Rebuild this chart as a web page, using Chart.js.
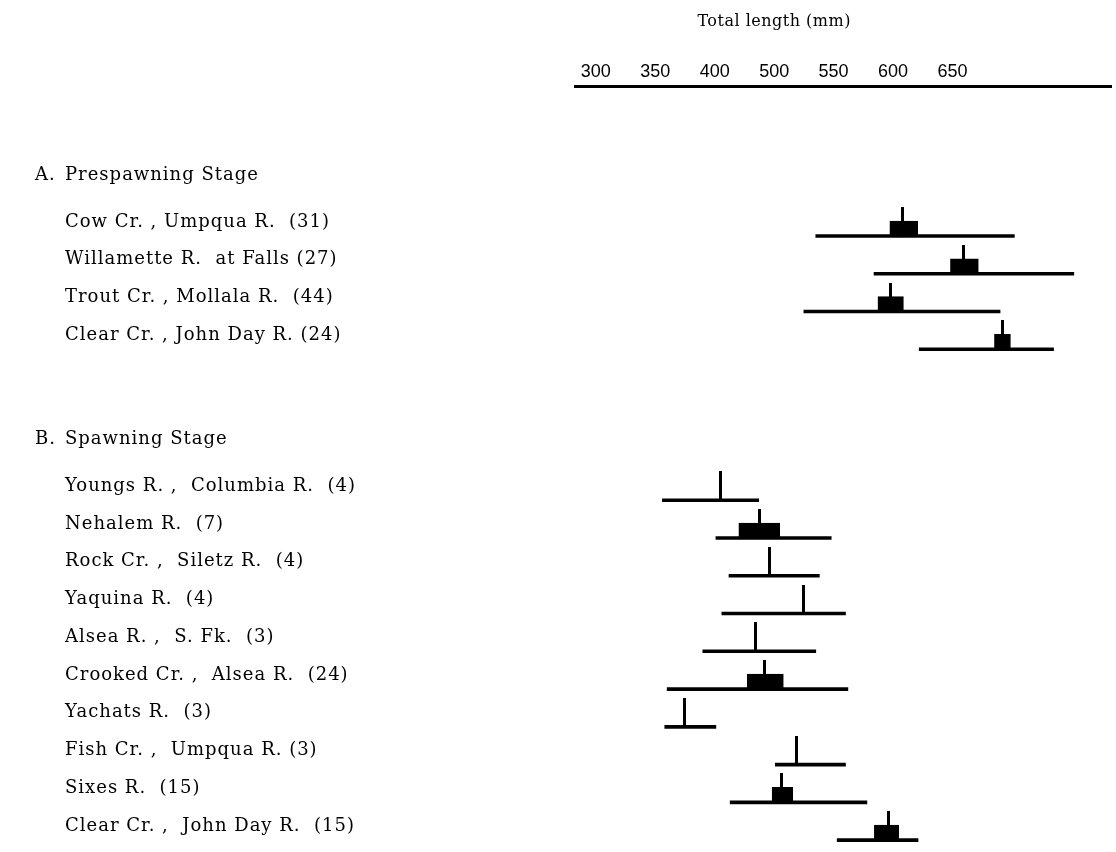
<!DOCTYPE html>
<html>
<head>
<meta charset="utf-8">
<script src="https://cdn.jsdelivr.net/npm/chart.js@4/dist/chart.umd.min.js"></script>
<style>
  html, body { margin: 0; padding: 0; background: #fff; }
  #wrap { width: 1116px; height: 852px; position: relative; }
</style>
</head>
<body>
<div id="wrap"><canvas id="chart"></canvas></div>
<script>
// the printed scale jumps from "400" to "500" where 450 belongs,
// so the labels are kept apart from the tick positions
const axisTitle = "Total length (mm)";
const tickValues = [350, 400, 450, 500, 550, 600, 650];
const tickLabels = ["300", "350", "400", "500", "550", "600", "650"];

const groupA = ["A.", "Prespawning Stage"];
const groupB = ["B.", "Spawning Stage"];

const prespawnSites = [
    "Cow Cr. , Umpqua R.  (31)",
    "Willamette R.  at Falls (27)",
    "Trout Cr. , Mollala R.  (44)",
    "Clear Cr. , John Day R. (24)",
];
const spawnSites = [
    "Youngs R. ,  Columbia R.  (4)",
    "Nehalem R.  (7)",
    "Rock Cr. ,  Siletz R.  (4)",
    "Yaquina R.  (4)",
    "Alsea R. ,  S. Fk.  (3)",
    "Crooked Cr. ,  Alsea R.  (24)",
    "Yachats R.  (3)",
    "Fish Cr. ,  Umpqua R. (3)",
    "Sixes R.  (15)",
    "Clear Cr. ,  John Day R.  (15)",
];

// one entry per site, top to bottom (mm)
const rangeMin = [535, 584, 525, 622, 406, 451, 462, 456, 440, 410, 408, 501, 463, 553];
const rangeMax = [702, 752, 690, 735, 487, 548, 538, 560, 535, 562, 451, 560, 578, 621];
const means    = [608, 659, 598, 692, 455, 488, 496, 525, 484, 492, 425, 519, 506, 596];
const boxLow   = [597, 648, 587, 685, null, 470, null, null, null, 477, null, null, 498, 584];
const boxHigh  = [621, 672, 609, 699, null, 505, null, null, null, 508, null, null, 516, 605];

// row layout: header, sites, two empty rows, header, sites
const rows = [];
const siteRows = [];
rows.push({ letter: groupA[0], text: groupA[1] });
prespawnSites.forEach((s) => { siteRows.push(rows.length); rows.push({ text: s }); });
rows.push({ text: "" }, { text: "" });
rows.push({ letter: groupB[0], text: groupB[1] });
spawnSites.forEach((s) => { siteRows.push(rows.length); rows.push({ text: s }); });

function makeMeanTick() {
    const c = document.createElement("canvas");
    c.width = 3;
    c.height = 58;
    const g = c.getContext("2d");
    g.fillStyle = "#000";
    g.fillRect(0, 0, 3, 30);
    return c;
}

// typed labels sit a little above the drawn range line of their row
const rowLabels = {
    id: "rowLabels",
    afterDraw(chart) {
        const ctx = chart.ctx;
        const ym = chart.scales.ym;
        const x = chart.scales.x;
        ctx.save();
        ctx.fillStyle = "#000";
        ctx.textBaseline = "middle";
        ctx.font = "18px 'DejaVu Serif'";
        ctx.letterSpacing = "1px";
        rows.forEach((row, i) => {
            if (!row.text) return;
            let y = ym.getPixelForValue(i) - 14;
            if (row.letter) {
                y -= 9;
                ctx.fillText(row.letter, 35, y);
            }
            ctx.fillText(row.text, 65, y);
        });
        ctx.font = "16px 'DejaVu Serif'";
        ctx.letterSpacing = "0.5px";
        ctx.textAlign = "center";
        const mid = (tickValues[0] + tickValues[tickValues.length - 1]) / 2;
        ctx.fillText(axisTitle, x.getPixelForValue(mid), 22);
        ctx.restore();
    },
};

const ctx = document.getElementById("chart").getContext("2d");
new Chart(ctx, {
    type: "bar",
    data: {
        datasets: [
            {
                type: "scatter",
                data: means.map((m, i) => ({ x: m, y: siteRows[i] })),
                pointStyle: makeMeanTick(),
                yAxisID: "ym",
            },
            {
                data: rangeMin.map((m, i) => ({ x: [m, rangeMax[i]], y: siteRows[i] })),
                indexAxis: "y",
                grouped: false,
                categoryPercentage: 1,
                barPercentage: 1,
                maxBarThickness: 3,
                backgroundColor: "#000",
                yAxisID: "ym",
            },
            {
                data: boxLow
                    .map((lo, i) => ({ x: [lo, boxHigh[i]], y: siteRows[i] }))
                    .filter((d) => d.x[0] !== null),
                indexAxis: "y",
                grouped: false,
                categoryPercentage: 1,
                barPercentage: 1,
                maxBarThickness: 30,
                backgroundColor: "rgba(0,0,0,0)",
                borderColor: "#000",
                borderWidth: { top: 15, right: 0, bottom: 0, left: 0 },
                borderSkipped: false,
                yAxisID: "ym",
            },
        ],
    },
    options: {
        responsive: true,
        maintainAspectRatio: false,
        animation: false,
        layout: { padding: { left: 575, right: 0, top: 0, bottom: 0 } },
        plugins: { legend: { display: false }, tooltip: { enabled: false } },
        scales: {
            x: {
                type: "linear",
                position: "top",
                offset: false,
                min: 332.5,
                max: 783.3,
                grid: { display: false, drawTicks: false, offset: false },
                border: { display: true, color: "#000", width: 3 },
                afterBuildTicks: (s) => { s.ticks = tickValues.map((v) => ({ value: v })); },
                afterFit: (s) => { s.height = 86; },
                ticks: {
                    padding: 3,
                    color: "#000",
                    font: { family: "'Liberation Sans'", size: 18 },
                    maxRotation: 0,
                    autoSkip: false,
                    callback: (v, i) => tickLabels[i],
                },
            },
            ym: {
                type: "linear",
                display: false,
                offset: false,
                reverse: true,
                min: -2.974,
                max: 17.184,
                afterBuildTicks: (s) => { s.ticks = rows.map((r, i) => ({ value: i })); },
            },
        },
    },
    plugins: [rowLabels],
});
</script>
</body>
</html>
